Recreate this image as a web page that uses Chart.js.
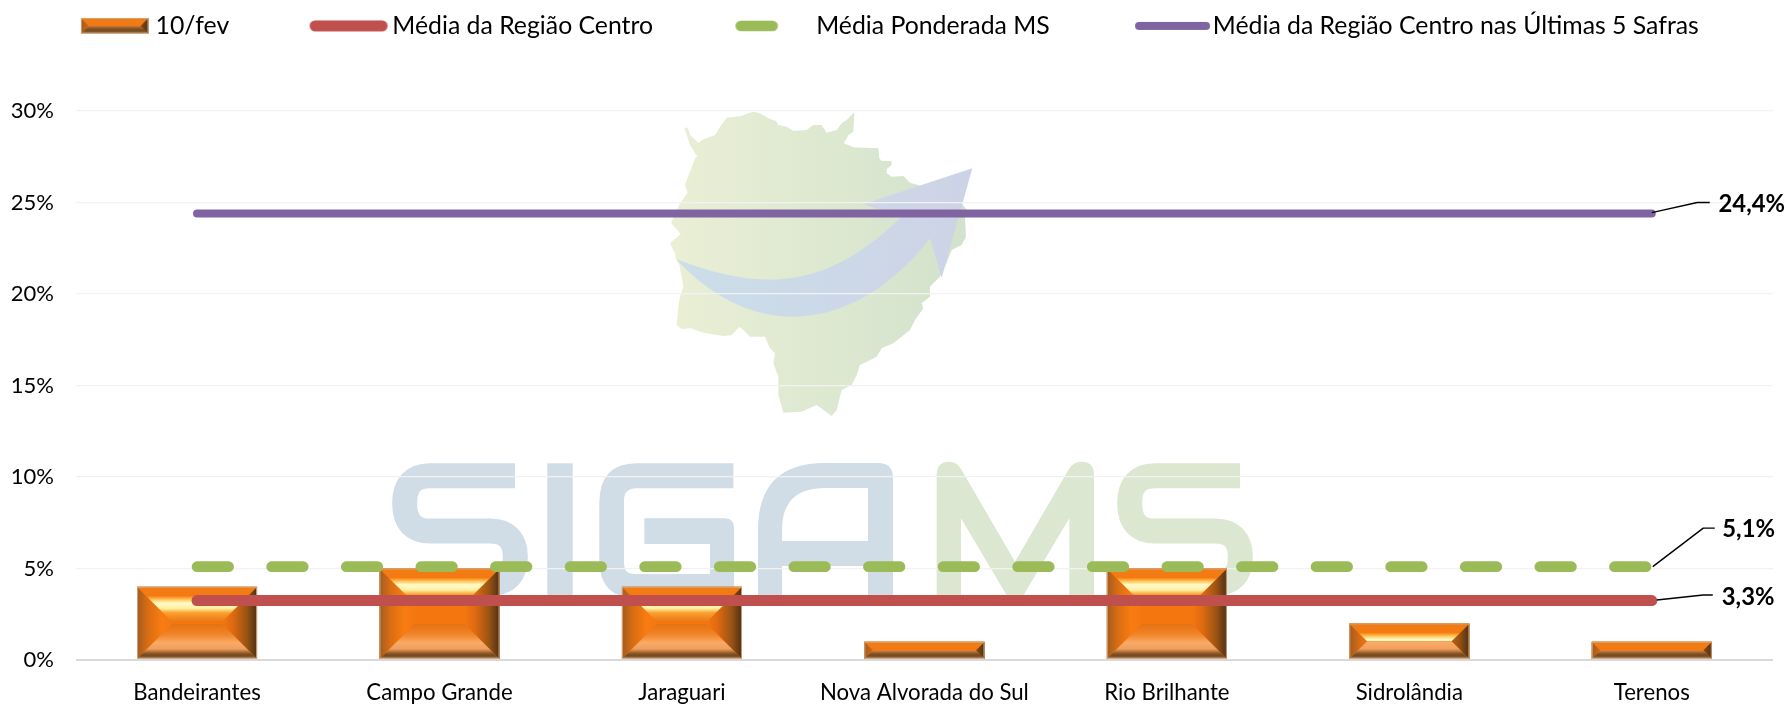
<!DOCTYPE html>
<html lang="pt">
<head>
<meta charset="utf-8">
<title>Colheita - Região Centro</title>
<script src="https://cdn.jsdelivr.net/npm/chart.js@4/dist/chart.umd.min.js"></script>
<style>html,body{margin:0;padding:0;background:#fff}canvas{display:block}</style>
</head>
<body>
<canvas id="c" width="1790" height="704"></canvas>
<script>
const categories = ["Bandeirantes","Campo Grande","Jaraguari","Nova Alvorada do Sul","Rio Brilhante","Sidrolândia","Terenos"];
const seriesNames = ["10/fev","Média da Região Centro","Média Ponderada MS","Média da Região Centro nas Últimas 5 Safras"];
const harvest = [4,5,4,1,5,2,1];
const regionAverage = [3.25,3.25,3.25,3.25,3.25,3.25,3.25];
const weightedAverage = [5.1,5.1,5.1,5.1,5.1,5.1,5.1];
const fiveSeasonAverage = [24.4,24.4,24.4,24.4,24.4,24.4,24.4];
const endLabels = ["3,3%","5,1%","24,4%"];
const yTicks = [0,5,10,15,20,25,30];

const FONT = "Lato, Carlito, Calibri, sans-serif";
const RED = "#C0504D", GREEN = "#9BBB59", PURPLE = "#8064A2";

function bevel(ctx, x0, y0, x1, y1) {
  const h = y1 - y0, w = x1 - x0, b = Math.min(35, h / 2, w / 2), L = 36;
  ctx.save();
  ctx.fillStyle = "#f4760e";
  ctx.fillRect(x0, y0, w, h);
  const stops = (g, s) => { s.forEach(p => g.addColorStop(p[0], p[1])); return g; };
  const poly = (pts, fill) => {
    ctx.beginPath();
    pts.forEach((p, i) => i ? ctx.lineTo(p[0], p[1]) : ctx.moveTo(p[0], p[1]));
    ctx.closePath();
    ctx.fillStyle = fill; ctx.fill();
  };
  poly([[x0,y0],[x0+b,y0+b],[x0+b,y1-b],[x0,y1]], stops(ctx.createLinearGradient(x0,0,x0+35,0),
    [[0,"#a05c20"],[.3,"#d86c14"],[.7,"#f87c10"],[1,"#f47810"]]));
  poly([[x1,y0],[x1-b,y0+b],[x1-b,y1-b],[x1,y1]], stops(ctx.createLinearGradient(x1-35,0,x1,0),
    [[0,"#f47810"],[.3,"#e06a10"],[.7,"#9a5414"],[1,"#4e3014"]]));
  poly([[x0,y0],[x1,y0],[x1-b,y0+b],[x0+b,y0+b]], stops(ctx.createLinearGradient(0,y0,0,y0+L),
    [[0,"#ee7d1a"],[.25,"#f6790f"],[.36,"#ffc95a"],[.45,"#fffacb"],[.6,"#fff0a0"],[.72,"#f9a030"],[1,"#ec7210"]]));
  poly([[x0,y1],[x1,y1],[x1-b,y1-b],[x0+b,y1-b]], stops(ctx.createLinearGradient(0,y1-L,0,y1),
    [[0,"#e56f10"],[.33,"#f0862a"],[.55,"#fbaa66"],[.72,"#ee9e5e"],[.85,"#8a5422"],[.92,"#70461e"],[1,"#e0b088"]]));
  ctx.strokeStyle = "rgba(205,170,135,.9)";
  ctx.lineWidth = 1;
  ctx.strokeRect(x0 + .5, y0 + .5, w - 1, h - 1);
  ctx.restore();
}

function legendSymbol(kind) {
  const cv = document.createElement("canvas");
  cv.width = 200; cv.height = 24;
  const g = cv.getContext("2d"), m = 100, cy = 12;
  if (kind === 0) { bevel(g, m + 12, 4, m + 79.5, 20); return cv; }
  const spec = {1:[4,82,RED,11],2:[6,48.5,GREEN,10.7],3:[9,84,PURPLE,8]}[kind];
  g.strokeStyle = spec[2]; g.lineWidth = spec[3]; g.lineCap = "round";
  g.beginPath();
  g.moveTo(m + spec[0] + spec[3]/2, cy);
  g.lineTo(m + spec[1] - spec[3]/2, cy);
  g.stroke();
  return cv;
}
const legendSymbols = [0,1,2,3].map(legendSymbol);

const mapOutline = [[340,65],[360,70],[385,85],[408,93],[415,105],[440,110],[460,123],[500,120],[520,105],[545,105],[560,128],[590,120],[605,100],[620,90],[640,70],[643,70],[640,125],[625,135],[612,160],[640,172],[715,175],[718,205],[725,213],[755,213],[755,225],[740,238],[740,250],[755,260],[790,258],[810,278],[835,285],[900,310],[965,340],[980,360],[975,385],[978,440],[965,465],[935,480],[915,530],[900,560],[880,580],[870,590],[870,620],[845,640],[850,655],[825,690],[810,720],[760,760],[725,775],[710,800],[660,825],[650,855],[635,885],[605,900],[590,960],[575,978],[530,945],[485,965],[430,968],[415,915],[415,860],[400,820],[405,790],[390,775],[375,740],[330,740],[310,720],[298,710],[275,735],[250,738],[190,728],[150,715],[125,718],[110,705],[115,650],[120,620],[130,590],[125,560],[118,525],[107,505],[105,490],[90,460],[122,432],[93,398],[120,340],[143,308],[135,285],[165,205],[172,200],[150,165],[133,113],[143,113],[150,135],[175,158],[190,148],[225,135],[240,110],[260,83],[305,78],[325,70]];

function drawWatermark(ctx) {
  ctx.save();
  ctx.save();
  ctx.translate(640, 90); ctx.scale(1/3, 1/3);
  let g = ctx.createLinearGradient(90,0,980,0);
  g.addColorStop(0,"#eaefd5"); g.addColorStop(1,"#d2e2cc");
  ctx.fillStyle = g;
  ctx.beginPath();
  mapOutline.forEach((p,i)=> i?ctx.lineTo(p[0],p[1]):ctx.moveTo(p[0],p[1]));
  ctx.closePath(); ctx.fill();
  g = ctx.createLinearGradient(108,0,997,0);
  g.addColorStop(0,"#cbdee9"); g.addColorStop(1,"#cdd3e6");
  ctx.fillStyle = g;
  ctx.beginPath();
  ctx.moveTo(108,507);
  ctx.bezierCurveTo(350,600,550,610,785,380);
  ctx.lineTo(670,343); ctx.lineTo(997,235); ctx.lineTo(905,563); ctx.lineTo(870,445);
  ctx.bezierCurveTo(660,720,350,770,108,507);
  ctx.closePath(); ctx.fill();
  ctx.restore();

  ctx.beginPath(); ctx.rect(380,440,900,160); ctx.clip();
  const BLUE = "#d0dce6", LGREEN = "#dce7d1";
  const letterS = (ox, color) => {
    ctx.save();
    ctx.translate(ox, 450); ctx.scale(1/3,1/3);
    ctx.strokeStyle = color; ctx.lineWidth = 75; ctx.lineJoin = "round";
    ctx.beginPath();
    ctx.moveTo(405,77); ctx.lineTo(150,77);
    ctx.quadraticCurveTo(74,77,74,160);
    ctx.quadraticCurveTo(74,243,150,243);
    ctx.lineTo(330,243);
    ctx.quadraticCurveTo(406,243,406,322);
    ctx.quadraticCurveTo(406,400,330,400);
    ctx.lineTo(40,400);
    ctx.stroke();
    ctx.restore();
  };
  letterS(380, BLUE);
  letterS(1105, LGREEN);
  ctx.fillStyle = BLUE;
  ctx.fillRect(547.3,463.3,25.4,140);
  ctx.save(); ctx.translate(380,450); ctx.scale(1/3,1/3);
  ctx.beginPath();
  ctx.moveTo(1060,40); ctx.lineTo(770,40); ctx.quadraticCurveTo(658,40,658,160);
  ctx.lineTo(658,330); ctx.quadraticCurveTo(658,445,770,445); ctx.lineTo(1062,445);
  ctx.lineTo(1062,235); ctx.quadraticCurveTo(1062,205,1035,205); ctx.lineTo(793,205);
  ctx.lineTo(793,282); ctx.lineTo(990,282); ctx.lineTo(990,372); ctx.lineTo(760,372);
  ctx.quadraticCurveTo(732,372,732,340); ctx.lineTo(732,150);
  ctx.quadraticCurveTo(732,115,770,115); ctx.lineTo(1060,115); ctx.closePath();
  ctx.fill();
  ctx.restore();
  ctx.beginPath();
  ctx.moveTo(758,600); ctx.lineTo(758,530); ctx.quadraticCurveTo(758,463,825,463);
  ctx.lineTo(878,463); ctx.quadraticCurveTo(893,463,893,478); ctx.lineTo(893,600);
  ctx.lineTo(868,600); ctx.lineTo(868,566); ctx.lineTo(782,566); ctx.lineTo(782,600); ctx.closePath();
  ctx.moveTo(782,541); ctx.lineTo(868,541); ctx.lineTo(868,488); ctx.lineTo(825,488);
  ctx.quadraticCurveTo(782,488,782,530); ctx.closePath();
  ctx.fill("evenodd");
  ctx.save(); ctx.translate(820,450); ctx.scale(1/3,1/3);
  ctx.fillStyle = LGREEN;
  ctx.beginPath();
  ctx.moveTo(350,545); ctx.lineTo(350,75); ctx.quadraticCurveTo(350,35,388,35);
  ctx.quadraticCurveTo(412,35,425,60); ctx.lineTo(585,335); ctx.lineTo(745,60);
  ctx.quadraticCurveTo(758,35,785,35); ctx.quadraticCurveTo(822,35,822,75);
  ctx.lineTo(822,545); ctx.lineTo(748,545); ctx.lineTo(748,205); ctx.lineTo(585,478);
  ctx.lineTo(423,205); ctx.lineTo(423,545); ctx.closePath();
  ctx.fill();
  ctx.restore();
  ctx.restore();
}

const labelLeaders = {
  1:{text:endLabels[0], pts:[[5,-.5],[51.5,-5.5],[61,-5.5]], tx:70, ty:-3},
  2:{text:endLabels[1], pts:[[1,0],[51.5,-38.5],[63,-38.5]], tx:70.5, ty:-37},
  3:{text:endLabels[2], pts:[[0,-.8],[45.5,-11],[58,-11]], tx:66.8, ty:-9}
};

const customPlugin = {
  id: "custom",
  beforeInit(chart) {
    const lg = chart.legend, fit = lg.fit, draw = lg.draw;
    lg.fit = function () { fit.call(this); this.height = 103; };
    lg.draw = function () {
      const c = this.ctx;
      c.save(); c.translate(-7.5, 3.5);
      draw.call(this);
      c.restore();
    };
  },
  beforeDraw(chart) { drawWatermark(chart.ctx); },
  afterDatasetDraw(chart, args) {
    if (args.index !== 0) return;
    args.meta.data.forEach(el => {
      bevel(chart.ctx, el.x - el.width/2, el.y, el.x + el.width/2, el.base);
    });
  },
  afterDatasetsDraw(chart) {
    const ctx = chart.ctx;
    ctx.save();
    [1,2,3].forEach(i => {
      const meta = chart.getDatasetMeta(i);
      const pt = meta.data[meta.data.length-1];
      const s = labelLeaders[i];
      ctx.strokeStyle = "#000"; ctx.lineWidth = 1.4; ctx.lineJoin = "round";
      ctx.beginPath();
      s.pts.forEach((p,k)=> k?ctx.lineTo(pt.x+p[0],pt.y+p[1]):ctx.moveTo(pt.x+p[0],pt.y+p[1]));
      ctx.stroke();
      ctx.fillStyle = "#000";
      ctx.font = "bold 23.8px " + FONT;
      ctx.textAlign = "left"; ctx.textBaseline = "middle";
      ctx.fillText(s.text, pt.x + s.tx, pt.y + s.ty);
    });
    ctx.restore();
  }
};

const lineDs = (label, data, color, width, order, dash) => ({
  type:"line", label, data, borderColor:color, backgroundColor:color, borderWidth:width,
  borderCapStyle:"round", borderJoinStyle:"round", borderDash:dash||[], pointRadius:0, fill:false, tension:0, order
});

new Chart(document.getElementById("c"), {
  type:"bar",
  data:{
    labels:categories,
    datasets:[
      {type:"bar", label:seriesNames[0], data:harvest, backgroundColor:"#F4760E", barPercentage:.495, categoryPercentage:1, order:4},
      lineDs(seriesNames[1], regionAverage, RED, 11, 1),
      lineDs(seriesNames[2], weightedAverage, GREEN, 10.7, 2, [31.6,43]),
      lineDs(seriesNames[3], fiveSeasonAverage, PURPLE, 8, 3)
    ]
  },
  options:{
    responsive:false, animation:false,
    layout:{padding:{left:0,right:17,top:8,bottom:0}},
    plugins:{
      tooltip:{enabled:false},
      legend:{
        position:"top", align:"start",
        labels:{
          usePointStyle:true, pointStyleWidth:148.7, padding:2,
          color:"#000", font:{family:FONT,size:24.8},
          generateLabels:() => seriesNames.map((t,i)=>({text:t,pointStyle:legendSymbols[i],datasetIndex:i,hidden:false,fontColor:"#000",lineWidth:0}))
        }
      }
    },
    scales:{
      x:{
        grid:{display:false,drawTicks:false},
        border:{display:false},
        ticks:{color:"#000",font:{family:FONT,size:22.2},padding:20,maxRotation:0,autoSkip:false},
        afterFit:s=>{s.height=44;}
      },
      y:{
        min:0,max:30,
        afterBuildTicks:s=>{s.ticks=yTicks.map(v=>({value:v}));},
        border:{display:false},
        grid:{color:c=>c.tick.value===0?"#d9d9d9":"#f2f2f2",lineWidth:c=>c.tick.value===0?2:1.3,drawTicks:false},
        ticks:{color:"#000",font:{family:FONT,size:22},padding:22,callback:v=>v+"%"},
        afterFit:s=>{s.width=75.8;}
      }
    }
  },
  plugins:[customPlugin]
});
</script>
</body>
</html>
